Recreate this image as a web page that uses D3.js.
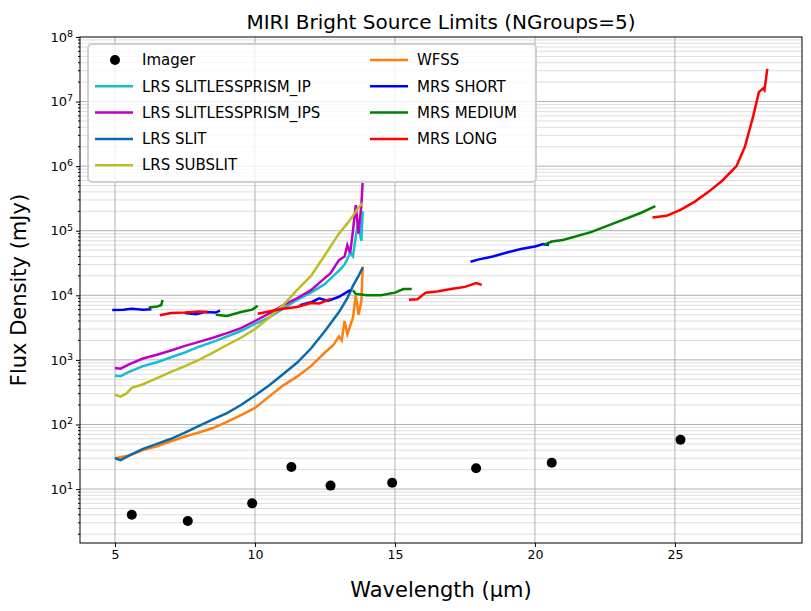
<!DOCTYPE html><html><head><meta charset="utf-8"><script src="https://cdn.jsdelivr.net/npm/d3@7"></script>
<style>body{margin:0;background:#fff}text{font-family:"DejaVu Sans",sans-serif}</style></head><body><svg id="c" width="811" height="611"></svg><script>
const imager=[[5.6,4],[7.6,3.2],[9.9,6],[11.3,22],[12.7,11.3],[14.9,12.5],[17.9,21],[20.6,25.5],[25.2,58]];
const ip=[[5,570],[5.2,560],[5.5,650],[6,800],[6.5,920],[7,1100],[7.5,1300],[8,1600],[8.5,1900],[9,2300],[9.5,2800],[10,3600],[10.5,4500],[11,6200],[11.5,8500],[12,11000],[12.5,15000],[12.8,20000],[13,24000],[13.2,30000],[13.4,45000],[13.5,40000],[13.6,80000],[13.7,150000],[13.75,90000],[13.8,70000],[13.85,200000]];
const ips=[[5,750],[5.2,730],[5.5,850],[6,1050],[6.5,1200],[7,1400],[7.5,1650],[8,1900],[8.5,2200],[9,2600],[9.5,3100],[10,4000],[10.5,5200],[11,7000],[11.5,9000],[12,12000],[12.4,17000],[12.7,22000],[13,35000],[13.2,40000],[13.3,60000],[13.4,45000],[13.5,100000],[13.6,250000],[13.7,90000],[13.8,250000],[13.85,600000]];
const slit=[[5,30],[5.2,28],[5.5,33],[6,42],[6.5,50],[7,60],[7.5,75],[8,95],[8.5,120],[9,150],[9.5,200],[10,280],[10.5,400],[11,600],[11.5,900],[12,1500],[12.5,2800],[13,5500],[13.3,9000],[13.5,14000],[13.7,20000],[13.85,27000]];
const subslit=[[5,290],[5.2,270],[5.4,300],[5.6,370],[6,420],[6.5,520],[7,650],[7.5,800],[8,1000],[8.5,1300],[9,1700],[9.5,2200],[10,3000],[10.5,4500],[11,7000],[11.5,12000],[12,20000],[12.5,42000],[13,90000],[13.3,130000],[13.5,170000],[13.7,230000],[13.85,270000]];
const wfss=[[5,30],[5.5,33],[6,40],[6.5,46],[7,55],[7.5,65],[8,75],[8.5,88],[9,110],[9.5,140],[10,180],[10.5,270],[11,400],[11.5,550],[12,800],[12.5,1300],[12.8,1700],[13,2300],[13.1,2000],[13.2,4000],[13.3,2500],[13.5,4500],[13.6,10000],[13.7,5000],[13.8,8000],[13.85,28000]];
const mrsShort=[[[4.9,5900],[5.3,6000],[5.6,6200],[6.0,6000],[6.3,6100]],[[7.5,5300],[7.9,5100],[8.2,5500],[8.6,5400],[8.75,5800]],[[11.6,7000],[12.0,7800],[12.3,9000],[12.6,8200],[13.0,9500],[13.4,12000]],[[17.7,33000],[18.0,36000],[18.5,40000],[19.0,46000],[19.5,52000],[20.0,57000],[20.3,62000],[20.5,60000]]];
const mrsMed=[[[6.2,6500],[6.5,6700],[6.65,7000],[6.7,8500]],[[8.6,5000],[9.0,4800],[9.5,5500],[9.9,6000],[10.1,6900]],[[13.5,12000],[13.6,10500],[14.0,10000],[14.5,10000],[15.0,11000],[15.3,12500],[15.6,12500]],[[20.3,60000],[20.6,68000],[21.0,72000],[22.0,95000],[23.0,140000],[23.8,190000],[24.3,240000]]];
const mrsLong=[[[6.6,4900],[7.0,5300],[7.5,5400],[8.0,5600],[8.3,5500]],[[10.1,5200],[10.5,5600],[11.0,6200],[11.5,6600],[12.0,7600],[12.3,7500],[12.7,8800]],[[15.5,8500],[15.8,8700],[16.1,11000],[16.5,11500],[17.0,12500],[17.5,13500],[17.9,15500],[18.1,14500]],[[24.2,160000],[24.7,170000],[25.2,210000],[25.7,280000],[26.2,400000],[26.7,600000],[27.2,1000000],[27.5,2000000],[27.8,6000000],[28.0,14000000],[28.15,16000000],[28.2,15000000],[28.3,32000000]]];
const legendItems=[["Imager","#000",true],["LRS SLITLESSPRISM_IP","#17becf"],["LRS SLITLESSPRISM_IPS","#c000c0"],["LRS SLIT","#0a6aa8"],["LRS SUBSLIT","#bcbd22"],["WFSS","#ff7f0e"],["MRS SHORT","#0000ff"],["MRS MEDIUM","#008000"],["MRS LONG","#ff0000"]];
const svg=d3.select("#c");
const L=80,R=802,T=37,B=543;
const x=d3.scaleLinear().domain([3.75,29.54]).range([L,R]);
const y=d3.scaleLog().domain([1.46,1e8]).range([B,T]);
const g=svg.append("g");
const minor=[];for(let e=0;e<8;e++)for(let k=1;k<10;k++){const v=k*10**e;if(v>=1.46&&v<=1e8)minor.push([v,k===1]);}
g.selectAll(".hg").data(minor).join("line").attr("x1",L).attr("x2",R).attr("y1",d=>y(d[0])).attr("y2",d=>y(d[0])).attr("stroke",d=>d[1]?"#b0b0b0":"#d6d6d6").attr("stroke-width",d=>d[1]?1:0.8);
g.selectAll(".vg").data([5,10,15,20,25]).join("line").attr("y1",T).attr("y2",B).attr("x1",d=>x(d)).attr("x2",d=>x(d)).attr("stroke","#b0b0b0");
const line=d3.line().x(d=>x(d[0])).y(d=>y(d[1]));
const draw=(data,c)=>g.append("path").attr("d",line(data)).attr("fill","none").attr("stroke",c).attr("stroke-width",2.5);
draw(wfss,"#ff7f0e");draw(ip,"#17becf");draw(ips,"#c000c0");draw(slit,"#0a6aa8");draw(subslit,"#bcbd22");
mrsShort.forEach(s=>draw(s,"#0000ff"));mrsMed.forEach(s=>draw(s,"#008000"));mrsLong.forEach(s=>draw(s,"#ff0000"));
g.selectAll(".pt").data(imager).join("circle").attr("cx",d=>x(d[0])).attr("cy",d=>y(d[1])).attr("r",5).attr("fill","#000");
svg.append("rect").attr("x",L).attr("y",T).attr("width",R-L).attr("height",B-T).attr("fill","none").attr("stroke","#000");
const xa=svg.append("g").attr("transform",`translate(0,${B})`).call(d3.axisBottom(x).tickValues([5,10,15,20,25]).tickSize(4).tickFormat(d3.format("d")));
xa.select(".domain").remove();xa.selectAll("text").attr("font-size",12.5).attr("fill","#000");
const ya=svg.append("g").attr("transform",`translate(${L},0)`).call(d3.axisLeft(y).tickValues([10,100,1e3,1e4,1e5,1e6,1e7,1e8]).tickSize(4).tickFormat(()=>""));
ya.select(".domain").remove();
ya.selectAll(".tick").each(function(d){const t=d3.select(this).append("text").attr("x",-7).attr("dy","0.32em").attr("text-anchor","end").attr("font-size",13).attr("fill","#000");t.append("tspan").text("10");t.append("tspan").attr("dy","-0.5em").attr("font-size",9.5).text(Math.round(Math.log10(d)));});
const yminor=minor.filter(d=>!d[1]).map(d=>d[0]);
svg.append("g").selectAll("line").data(yminor).join("line").attr("x1",L-2).attr("x2",L).attr("y1",d=>y(d)).attr("y2",d=>y(d)).attr("stroke","#000");
svg.append("text").attr("x",(L+R)/2).attr("y",29).attr("text-anchor","middle").attr("font-size",20).text("MIRI Bright Source Limits (NGroups=5)");
svg.append("text").attr("x",(L+R)/2).attr("y",597).attr("text-anchor","middle").attr("font-size",21).text("Wavelength (µm)");
svg.append("text").attr("transform",`translate(26,${(T+B)/2}) rotate(-90)`).attr("text-anchor","middle").attr("font-size",21).text("Flux Density (mJy)");
const lg=svg.append("g");
lg.append("rect").attr("x",88).attr("y",44).attr("width",448).attr("height",138).attr("rx",4).attr("fill","rgba(255,255,255,0.8)").attr("stroke","#cfcfcf").attr("stroke-width",2);
legendItems.forEach((d,i)=>{const col=i<5?0:1,row=i<5?i:i-5;const lx=col?370:95,ly=60+row*26.3;
if(d[2])lg.append("circle").attr("cx",lx+20).attr("cy",ly).attr("r",5).attr("fill",d[1]);
else lg.append("line").attr("x1",lx).attr("x2",lx+38).attr("y1",ly).attr("y2",ly).attr("stroke",d[1]).attr("stroke-width",2.5);
lg.append("text").attr("x",lx+47).attr("y",ly).attr("dy","0.35em").attr("font-size",15).text(d[0]);});
</script></body></html>
